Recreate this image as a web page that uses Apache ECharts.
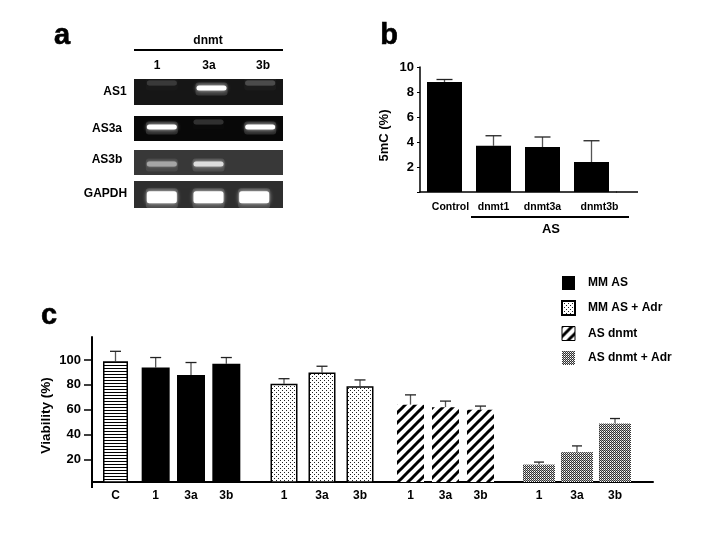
<!DOCTYPE html>
<html><head><meta charset="utf-8">
<script src="https://cdn.jsdelivr.net/npm/echarts@6/dist/echarts.min.js"></script>
<style>html,body{margin:0;background:#fff}#c{width:709px;height:539px}</style></head>
<body><div id="c"></div>
<script>
// ---- data ----
const gelLanes = ['1', '3a', '3b'];
const gelRows = ['AS1', 'AS3a', 'AS3b', 'GAPDH'];
const gelAS1 = [0.12, 1, 0.2];
const gelAS3a = [1, 0.08, 1];
const gelAS3b = [0.6, 0.85, 0];
const gelGAPDH = [1, 1, 1];

const bCategories = ['Control', 'dnmt1', 'dnmt3a', 'dnmt3b'];
const bValues = [8.8, 3.7, 3.6, 2.4];
const bErrorTops = [9.0, 4.5, 4.4, 4.1];

const cTicks = [20, 40, 60, 80, 100];
const cLabelControl = ['C'];
const cLabels = ['1', '3a', '3b'];
const cControl = [99];
const cControlTops = [107];
const cMMAS = [94, 88, 97];
const cMMASTops = [102, 98, 102];
const cMMASAdr = [81, 90, 79];
const cMMASAdrTops = [85, 95, 84];
const cASdnmt = [64, 62, 60];
const cASdnmtTops = [72, 67, 63];
const cASdnmtAdr = [16, 26, 49];
const cASdnmtAdrTops = [18, 31, 53];

// ---- helpers ----
const FONT = '"Liberation Sans", Arial, sans-serif';
function tile(w, h, draw) {
  const cv = document.createElement('canvas'); cv.width = w; cv.height = h;
  const g = cv.getContext('2d'); g.fillStyle = '#fff'; g.fillRect(0, 0, w, h); draw(g);
  return { image: cv, repeat: 'repeat' };
}
const hStripe = tile(3, 3, g => { g.fillStyle = '#000'; g.fillRect(0, 2, 3, 1); });
const dots = tile(4, 4, g => { g.fillStyle = '#222'; g.fillRect(0, 0, 1, 1); g.fillRect(2, 2, 1, 1); });
const diag = tile(10, 10, g => {
  g.strokeStyle = '#000'; g.lineWidth = 3;
  [[-5, 5, 5, -5], [0, 10, 10, 0], [5, 15, 15, 5]].forEach(l => {
    g.beginPath(); g.moveTo(l[0], l[1]); g.lineTo(l[2], l[3]); g.stroke();
  });
});
const gray = tile(2, 2, g => { g.fillStyle = '#333'; g.fillRect(0, 0, 1, 1); g.fillRect(1, 1, 1, 1); g.fillStyle = '#aaa'; g.fillRect(1, 0, 1, 1); });

const grids = [], xAxes = [], yAxes = [], series = [];
function addGrid(g, x, y) {
  grids.push(g); x.gridIndex = y.gridIndex = grids.length - 1;
  xAxes.push(x); yAxes.push(y); return grids.length - 1;
}

// ---- panel a: gel rows ----
const gelLayout = [
  { top: 79, h: 26, bg: '#161616', y: 0.65, t: 5, shift: [3, 3, 2] },
  { top: 116, h: 25, bg: '#080808', y: 0.56, t: 5, shift: [3, 0, 2] },
  { top: 150, h: 25, bg: '#383838', y: 0.44, t: 5, shift: [3, 0, 0] },
  { top: 181, h: 27, bg: '#2e2e2e', y: 0.4, t: 12, shift: [3, 0, -4] }
];
[gelAS1, gelAS3a, gelAS3b, gelGAPDH].forEach((vals, r) => {
  const L = gelLayout[r];
  const gi = addGrid({ left: 134, top: L.top, width: 149, height: L.h, show: true, backgroundColor: L.bg, borderWidth: 0 },
    { type: 'category', data: gelLanes, show: false },
    { type: 'value', min: 0, max: 1, show: false });
  series.push({
    type: 'custom', name: gelRows[r], xAxisIndex: gi, yAxisIndex: gi, silent: true,
    data: vals.map((v, i) => [i, L.y, v]),
    renderItem(params, api) {
      const p = api.coord([api.value(0), api.value(1)]), v = api.value(2);
      if (v <= 0) return null;
      const faint = v < 0.3;
      const x = p[0] + L.shift[api.value(0)], w = 32, h = L.t, cy = p[1] - (faint ? 5 : 0);
      const c = Math.round(30 + 225 * v);
      const smear = { type: 'rect', shape: { x: x - w / 2, y: cy - h / 2 - 3, width: w, height: h + 8, r: 3 },
        style: { fill: 'rgba(255,255,255,' + (0.14 * v) + ')' } };
      const core = { type: 'rect', shape: { x: x - w / 2 + 1, y: cy - h / 2, width: w - 2, height: h, r: 2.5 },
        style: { fill: 'rgb(' + c + ',' + c + ',' + c + ')', shadowBlur: 4 * v, shadowColor: 'rgba(255,255,255,' + (0.7 * v) + ')' } };
      return { type: 'group', children: [smear, core] };
    }
  });
});

// ---- error bars ----
function errSeries(gi, vals, tops, cap) {
  return {
    type: 'custom', xAxisIndex: gi, yAxisIndex: gi, silent: true, z: 1,
    data: vals.map((v, i) => [i, v, tops[i]]),
    renderItem(params, api) {
      const a = api.coord([api.value(0), api.value(1)]), b = api.coord([api.value(0), api.value(2)]);
      return { type: 'group', children: [
        { type: 'line', shape: { x1: a[0], y1: a[1], x2: b[0], y2: b[1] }, style: { stroke: '#555', lineWidth: 1.3 } },
        { type: 'line', shape: { x1: a[0] - cap / 2, y1: b[1], x2: a[0] + cap / 2, y2: b[1] }, style: { stroke: '#222', lineWidth: 1.3 } }
      ] };
    }
  };
}

// ---- panel b ----
const tickFont = { fontFamily: FONT, fontWeight: 'bold', color: '#000' };
const bShift = [6, 0, 0, 8];
const bGi = addGrid({ left: 420, top: 67, width: 196, height: 125 },
  { type: 'category', data: bCategories,
    axisLine: { lineStyle: { color: '#000', width: 1.5 } }, axisTick: { show: false },
    axisLabel: { ...tickFont, fontSize: 10, margin: 10, interval: 0,
      formatter: (v, i) => '{s' + i + '|' + v + '}',
      rich: Object.fromEntries(bShift.map((s, i) => ['s' + i, { ...tickFont, fontSize: 10.5, padding: [0, 0, 0, s * 2] }])) } },
  { type: 'value', min: 0, max: 10, interval: 2, name: '5mC (%)', nameLocation: 'middle', nameGap: 29, nameMoveOverlap: false,
    nameTextStyle: { ...tickFont, fontSize: 13, padding: [0, 12, 0, 0] }, splitLine: { show: false },
    axisLine: { show: true, lineStyle: { color: '#000', width: 1.5 } },
    axisTick: { show: true, length: 3, lineStyle: { color: '#000' } },
    axisLabel: { ...tickFont, fontSize: 13, margin: 6, formatter: v => (v === 0 ? '' : v) } });
series.push({ type: 'bar', xAxisIndex: bGi, yAxisIndex: bGi, data: bValues, barWidth: 35, z: 2, silent: true,
  itemStyle: { color: '#000' } });
series.push(errSeries(bGi, bValues, bErrorTops, 16));

// ---- panel c ----
const cMin = 2, cMax = 118.5, cTop = 337, cH = 145;
const masterGi = addGrid({ left: 92, top: cTop, width: 561, height: cH },
  { type: 'value', min: 0, max: 1, axisLine: { show: true, onZero: false, lineStyle: { color: '#000', width: 2 } },
    axisTick: { show: false }, axisLabel: { show: false }, splitLine: { show: false } },
  { type: 'value', min: cMin, max: cMax, name: 'Viability (%)', nameLocation: 'middle', nameGap: 39, nameMoveOverlap: false,
    nameTextStyle: { ...tickFont, fontSize: 13.5, padding: [0, 12, 0, 0] }, splitLine: { show: false },
    axisLine: { show: true, lineStyle: { color: '#000', width: 2 } },
    axisTick: { show: true, customValues: cTicks, length: 8, lineStyle: { color: '#000', width: 1.5 } },
    axisLabel: { ...tickFont, fontSize: 13, margin: 11, customValues: cTicks } });
series.push({ type: 'line', xAxisIndex: masterGi, yAxisIndex: masterGi, data: [], silent: true });

function groupGrid(left, width, labels) {
  return addGrid({ left, top: cTop, width, height: cH },
    { type: 'category', data: labels, axisLine: { show: false }, axisTick: { show: false },
      axisLabel: { ...tickFont, fontSize: 12, margin: 8, interval: 0 } },
    { type: 'value', min: cMin, max: cMax, show: false });
}
const g0 = groupGrid(97, 37, cLabelControl);
const g1 = groupGrid(138, 106, cLabels);
const g2 = groupGrid(265, 114, cLabels);
const g3 = groupGrid(393, 105, cLabels);
const g4 = groupGrid(520, 114, cLabels);
const box = { borderColor: '#000', borderWidth: 1.5 };
series.push({ type: 'bar', name: 'C', xAxisIndex: g0, yAxisIndex: g0, barWidth: 25, silent: true,
  data: cControl, itemStyle: { color: hStripe, ...box } });
series.push(errSeries(g0, cControl, cControlTops, 11));
series.push({ type: 'bar', name: 'MM AS', xAxisIndex: g1, yAxisIndex: g1, barWidth: 28, silent: true,
  data: cMMAS, itemStyle: { color: '#000' } });
series.push(errSeries(g1, cMMAS, cMMASTops, 11));
series.push({ type: 'bar', name: 'MM AS + Adr', xAxisIndex: g2, yAxisIndex: g2, barWidth: 27, silent: true,
  data: cMMASAdr, itemStyle: { color: dots, ...box } });
series.push(errSeries(g2, cMMASAdr, cMMASAdrTops, 11));
series.push({ type: 'bar', name: 'AS dnmt', xAxisIndex: g3, yAxisIndex: g3, barWidth: 27, silent: true,
  data: cASdnmt, itemStyle: { color: diag } });
series.push(errSeries(g3, cASdnmt, cASdnmtTops, 11));
series.push({ type: 'bar', name: 'AS dnmt + Adr', xAxisIndex: g4, yAxisIndex: g4, barWidth: 32, silent: true,
  data: cASdnmtAdr, itemStyle: { color: gray } });
series.push(errSeries(g4, cASdnmtAdr, cASdnmtAdrTops, 10));

// ---- annotations ----
const txt = (x, y, text, size, extra) => ({ type: 'text', x, y, silent: true,
  style: { text, fontFamily: FONT, fontWeight: 'bold', fontSize: size, fill: '#000', align: 'center', verticalAlign: 'middle', ...extra } });
const ln = (x1, y1, x2, y2, w) => ({ type: 'line', silent: true, shape: { x1, y1, x2, y2 }, style: { stroke: '#000', lineWidth: w } });
const heavy = { stroke: '#000', lineWidth: 0.6 };
const laneX = [157, 209, 263];
const rowLabelX = [115, 107, 107, 105.5], rowLabelY = [92, 129, 160, 194];
const graphic = [
  txt(62, 36, 'a', 29, heavy), txt(389, 36, 'b', 29, heavy), txt(49, 316, 'c', 29, heavy),
  txt(208, 41, 'dnmt', 12), ln(134, 50, 283, 50, 2),
  ...gelLanes.map((s, i) => txt(laneX[i], 66, s, 12)),
  ...gelRows.map((s, i) => txt(rowLabelX[i], rowLabelY[i], s, 12)),
  ln(471, 217, 629, 217, 2), txt(551, 229, 'AS', 13),
  ln(616, 192, 638, 192, 1.5), ln(92, 482, 92, 488, 2)
];

const chart = echarts.init(document.getElementById('c'), null, { renderer: 'canvas' });
chart.setOption({
  animation: false, backgroundColor: '#fff',
  grid: grids, xAxis: xAxes, yAxis: yAxes, series, graphic,
  legend: { orient: 'vertical', left: 556, top: 271, icon: 'rect', itemWidth: 13, itemHeight: 14, itemGap: 10, selectedMode: false,
    textStyle: { ...tickFont, fontSize: 12, padding: [0, 0, 0, 8] },
    data: [
      { name: 'MM AS' }, { name: 'MM AS + Adr' },
      { name: 'AS dnmt', itemStyle: { borderColor: '#000', borderWidth: 1 } }, { name: 'AS dnmt + Adr' }
    ] }
});
</script></body></html>
